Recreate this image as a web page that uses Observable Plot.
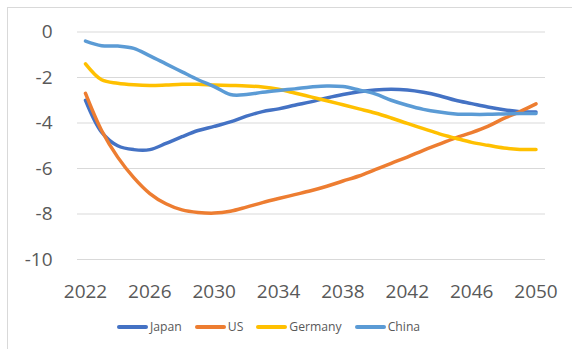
<!DOCTYPE html>
<html>
<head>
<meta charset="utf-8">
<script src="https://cdn.jsdelivr.net/npm/d3@7"></script>
<script src="https://cdn.jsdelivr.net/npm/@observablehq/plot@0.6"></script>
<style>
  html, body { margin: 0; padding: 0; background: #fff; }
  body { position: relative; width: 572px; height: 349px; overflow: hidden; font-family: "Open Sans", sans-serif; }
  #frame { position: absolute; left: 7px; top: 7px; width: 570px; height: 360px; border: 1px solid #d9d9d9; box-sizing: border-box; }
  #chart { position: absolute; left: 0; top: 0; }
  #legend { position: absolute; left: 117px; top: 318px; display: flex; align-items: center; font-size: 12.2px; color: #595959; }
  .item { display: flex; align-items: center; margin-right: 13px; }
  .sw { width: 31px; height: 4px; border-radius: 2px; margin-right: 2px; }
</style>
</head>
<body>
<div id="frame"></div>
<div id="chart"></div>
<div id="legend"></div>
<script>
const years = d3.range(2022, 2051);
const seriesNames = ["Japan", "US", "Germany", "China"];
const colors = ["#4472C4", "#ED7D31", "#FFC000", "#5B9BD5"];
const japan = [-3.0, -4.4, -5.0, -5.17, -5.17, -4.9, -4.6, -4.33, -4.15, -3.95, -3.7, -3.5, -3.38, -3.22, -3.07, -2.9, -2.75, -2.63, -2.55, -2.52, -2.55, -2.65, -2.8, -3.0, -3.15, -3.3, -3.42, -3.5, -3.52];
const us = [-2.7, -4.33, -5.5, -6.4, -7.1, -7.55, -7.82, -7.93, -7.96, -7.88, -7.7, -7.5, -7.32, -7.15, -6.98, -6.78, -6.55, -6.33, -6.05, -5.77, -5.5, -5.2, -4.93, -4.65, -4.42, -4.15, -3.8, -3.5, -3.16];
const germany = [-1.4, -2.1, -2.25, -2.32, -2.35, -2.33, -2.3, -2.3, -2.33, -2.35, -2.37, -2.42, -2.52, -2.68, -2.85, -3.02, -3.2, -3.38, -3.56, -3.78, -4.02, -4.25, -4.48, -4.67, -4.85, -4.98, -5.1, -5.16, -5.17];
const china = [-0.4, -0.6, -0.62, -0.72, -1.05, -1.4, -1.75, -2.1, -2.4, -2.75, -2.75, -2.65, -2.57, -2.5, -2.42, -2.37, -2.4, -2.55, -2.72, -3.0, -3.22, -3.4, -3.52, -3.6, -3.62, -3.62, -3.6, -3.58, -3.58];
const yTicks = [0, -2, -4, -6, -8, -10];
const xTicks = [2022, 2026, 2030, 2034, 2038, 2042, 2046, 2050];

const allValues = [japan, us, germany, china];
const rows = [];
seriesNames.forEach((name, i) => {
  years.forEach((yr, j) => rows.push({series: name, year: yr, value: allValues[i][j]}));
});

const chart = Plot.plot({
  width: 572,
  height: 315,
  marginLeft: 77,
  marginRight: 27,
  marginTop: 31.5,
  marginBottom: 56,
  style: {fontFamily: "Open Sans, sans-serif", fontSize: "19px", color: "#595959", background: "transparent"},
  x: {domain: [2022, 2050], insetLeft: 8, insetRight: 9.5, label: null},
  y: {domain: [-10, 0], label: null},
  color: {domain: seriesNames, range: colors},
  marks: [
    Plot.ruleY(yTicks, {stroke: "#d9d9d9", strokeWidth: 1}),
    Plot.axisX({ticks: xTicks, tickFormat: d => String(d), tickSize: 0, tickPadding: 24.5, fill: "#595959", fontSize: 19, label: null}),
    Plot.axisY({ticks: yTicks, tickFormat: d => String(d), tickSize: 0, tickPadding: 25, fill: "#595959", fontSize: 19, label: null}),
    Plot.line(rows, {x: "year", y: "value", z: "series", stroke: "series", strokeWidth: 3.5, curve: "catmull-rom", strokeLinecap: "round", strokeLinejoin: "round"})
  ]
});
document.getElementById("chart").appendChild(chart);

const legend = document.getElementById("legend");
seriesNames.forEach((name, i) => {
  const item = document.createElement("div");
  item.className = "item";
  const sw = document.createElement("div");
  sw.className = "sw";
  sw.style.background = colors[i];
  const t = document.createElement("span");
  t.textContent = name;
  item.appendChild(sw);
  item.appendChild(t);
  legend.appendChild(item);
});
</script>
</body>
</html>
